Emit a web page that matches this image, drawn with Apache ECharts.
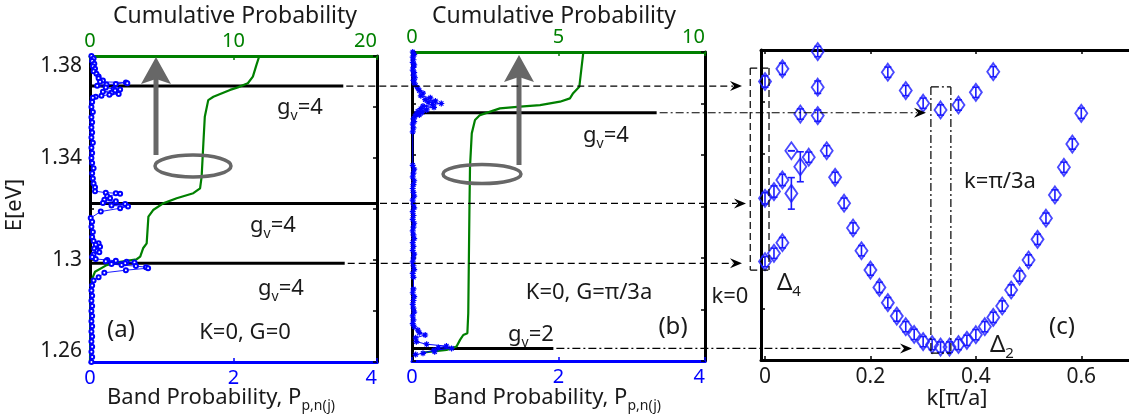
<!DOCTYPE html>
<html>
<head>
<meta charset="utf-8">
<script src="https://cdn.jsdelivr.net/npm/echarts@6/dist/echarts.min.js"></script>
<style>
html,body{margin:0;padding:0;background:#fff;}
#chart{width:1129px;height:420px;}
</style>
</head>
<body>
<div id="chart"></div>
<script>
// ---------------- data ----------------
// energy axis ticks shared by all three panels
const energyTicks  = [1.26, 1.28, 1.30, 1.32, 1.34, 1.36, 1.38];
const energyLabels = [1.26, 1.3, 1.34, 1.38];
const kTicks = [0, 0.2, 0.4, 0.6];

// (a) K=0, G=0 : band probability P vs energy
const bandA_E = [1.3800,1.3790,1.3780,1.3770,1.3760,1.3750,1.3740,1.3730,1.3720,
  1.3713,1.3704,1.3699,1.3696,1.3693,1.3690,1.3688,1.3683,1.3676,1.3671,1.3669,1.3665,1.3660,1.3656,1.3651,1.3648,1.3644,1.3640,1.3636,
  1.3620,1.3600,1.3580,1.3560,1.3540,1.3520,1.3500,1.3480,1.3460,1.3440,1.3420,1.3400,1.3380,1.3360,1.3340,1.3320,1.3300,1.3285,
  1.3270,1.3264,1.3262,1.3260,1.3250,1.3242,1.3236,1.3230,1.3224,1.3220,1.3214,1.3210,1.3203,1.3190,1.3165,
  1.3150,1.3130,1.3110,1.3090,1.3075,1.3066,1.3060,1.3052,1.3045,1.3036,1.3030,1.3022,1.3012,
  1.3004,1.3000,1.2997,1.2995,1.2993,1.2990,1.2987,1.2984,1.2980,1.2976,1.2972,1.2968,1.2960,1.2950,1.2932,1.2920,
  1.2900,1.2880,1.2860,1.2840,1.2820,1.2800,1.2780,1.2760,1.2740,1.2720,1.2700,1.2680,1.2660,1.2640,1.2620,1.2600];
const bandA_P = [0.02,0.05,0.03,0.06,0.04,0.07,0.05,0.09,0.12,
  0.12,0.18,0.14,0.50,0.52,0.36,0.23,0.10,0.22,0.33,0.42,0.35,0.18,0.30,0.40,0.27,0.16,0.08,0.04,
  0.03,0.02,0.04,0.02,0.03,0.02,0.03,0.02,0.04,0.02,0.03,0.02,0.03,0.05,0.03,0.04,0.05,0.07,
  0.07,0.22,0.36,0.42,0.24,0.28,0.20,0.36,0.18,0.49,0.30,0.53,0.42,0.15,0.01,
  0.03,0.02,0.04,0.03,0.05,0.12,0.08,0.14,0.06,0.10,0.13,0.05,0.03,
  0.08,0.24,0.36,0.22,0.51,0.62,0.49,0.30,0.44,0.64,0.78,0.81,0.50,0.20,0.12,0.05,
  0.03,0.02,0.03,0.02,0.03,0.02,0.03,0.02,0.03,0.02,0.03,0.02,0.03,0.02,0.03,0.02];

// (a) cumulative probability vs energy
const cumA_E = [1.3800,1.3765,1.3719,1.3693,1.3677,1.3667,1.3640,1.3627,1.3562,1.3458,1.3327,1.3281,1.3262,1.3242,1.3222,1.3196,1.3170,1.3065,1.3046,1.3013,1.3003,1.2993,1.2980,1.2954,1.2922,1.2843,1.2600];
const cumA_C = [11.8,11.6,11.35,11.0,10.3,9.76,8.6,8.24,8.0,7.9,7.78,7.67,7.2,6.04,5.1,4.4,4.07,3.95,3.7,3.5,3.25,2.1,1.16,0.35,0.12,0.05,0.0];

// (a) degenerate levels (energy, extent of the marker line in P units, degeneracy)
const levelA_E   = [1.3682, 1.3222, 1.2987];
const levelA_end = [3.53, 4.0, 3.55];
const levelA_deg = [4, 4, 4];

// (b) K=0, G=pi/3a : band probability P vs energy
const bandB_E = [1.3800,1.3790,1.3780,1.3770,1.3760,1.3750,1.3740,1.3730,1.3720,1.3710,1.3700,1.3690,1.3680,1.3670,
  1.3660,1.3650,1.3640,1.3630,1.3622,1.3615,1.3610,1.3605,1.3600,1.3596,1.3590,1.3585,1.3580,1.3575,1.3570,1.3565,1.3560,1.3555,1.3550,
  1.3540,1.3530,1.3520,1.3505,1.3490,
  1.3360,1.3345,1.3330,1.3315,1.3300,1.3285,1.3270,1.3255,1.3240,1.3225,1.3210,1.3195,1.3180,1.3165,1.3150,1.3135,1.3120,1.3105,1.3090,1.3075,1.3060,1.3045,1.3030,1.3015,1.3000,1.2985,1.2970,1.2955,1.2940,1.2925,
  1.2880,1.2865,1.2850,1.2835,1.2820,1.2805,1.2790,1.2775,1.2760,1.2745,
  1.2733,1.2720,1.2710,1.2701,1.2690,1.2675,1.2665,1.2658,1.2652,1.2649,1.2642,1.2636,1.2630,1.2625];
const bandB_P = [0.01,0.03,0.01,0.02,0.01,0.03,0.02,0.01,0.03,0.02,0.04,0.02,0.03,0.05,
  0.08,0.10,0.15,0.12,0.25,0.18,0.32,0.22,0.40,0.28,0.15,0.30,0.12,0.20,0.08,0.14,0.06,0.10,0.04,
  0.02,0.03,0.01,0.02,0.01,
  0.01,0.03,0.02,0.01,0.03,0.02,0.01,0.02,0.03,0.01,0.02,0.03,0.01,0.02,0.01,0.03,0.02,0.01,0.02,0.03,0.01,0.02,0.01,0.03,0.02,0.01,0.02,0.03,0.01,0.02,
  0.02,0.01,0.03,0.02,0.01,0.02,0.03,0.01,0.02,0.01,
  0.03,0.08,0.10,0.18,0.05,0.06,0.20,0.47,0.36,0.54,0.30,0.31,0.15,0.05];

// (b) cumulative probability vs energy
const cumB_E = [1.3801,1.3743,1.3665,1.3640,1.3620,1.3607,1.3594,1.3588,1.3581,1.3555,1.3536,1.3484,1.3355,1.3186,1.2785,1.2708,1.2701,1.2682,1.2656,1.2643,1.2632];
const cumB_C = [5.85,5.79,5.71,5.5,5.39,5.05,4.37,3.69,3.0,2.32,2.15,2.04,1.98,1.96,1.92,1.89,1.75,1.64,1.52,1.18,0.33];

// (b) degenerate levels
const levelB_E   = [1.3564, 1.2649];
const levelB_end = [3.34, 1.93];
const levelB_deg = [4, 2];

// (c) band structure E(k), k in units of pi/a, with error bars
const bandC_k = [0, 0, 0, 0.017, 0.017, 0.033, 0.033, 0.033, 0.05, 0.05, 0.067, 0.067, 0.083, 0.1, 0.1, 0.1,
  0.117, 0.133, 0.15, 0.167, 0.183, 0.2, 0.217, 0.233, 0.25, 0.267, 0.283, 0.3, 0.317, 0.333, 0.35, 0.367, 0.383, 0.4,
  0.417, 0.433, 0.45, 0.467, 0.483, 0.5, 0.517, 0.533, 0.55, 0.567, 0.583, 0.6,
  0.233, 0.267, 0.3, 0.333, 0.367, 0.4, 0.433];
const bandC_E = [1.3678, 1.3226, 1.2981, 1.3252, 1.3013, 1.3727, 1.3297, 1.3054, 1.3410, 1.3245, 1.3552, 1.3348, 1.3385, 1.3794, 1.3656, 1.3546,
  1.3410, 1.3307, 1.3207, 1.3111, 1.3023, 1.2948, 1.2881, 1.2822, 1.2770, 1.2729, 1.2699, 1.2671, 1.2660, 1.2650, 1.2650, 1.2660, 1.2676, 1.2698,
  1.2729, 1.2765, 1.2809, 1.2871, 1.2925, 1.2987, 1.3067, 1.3149, 1.3239, 1.3346, 1.3436, 1.3555,
  1.3714, 1.3643, 1.3594, 1.3568, 1.3587, 1.3636, 1.3716];
const bandC_err = [0.0022, 0.0022, 0.0020, 0.0022, 0.0020, 0.0022, 0.0022, 0.0020, 0.0000, 0.0061, 0.0020, 0.0058, 0.0020, 0.0020, 0.0024, 0.0022,
  0.0020, 0.0020, 0.0020, 0.0020, 0.0020, 0.0020, 0.0020, 0.0020, 0.0020, 0.0020, 0.0020, 0.0020, 0.0020, 0.0020, 0.0020, 0.0020, 0.0020, 0.0020,
  0.0020, 0.0020, 0.0020, 0.0020, 0.0020, 0.0020, 0.0020, 0.0020, 0.0020, 0.0020, 0.0020, 0.0020,
  0.0020, 0.0020, 0.0020, 0.0020, 0.0020, 0.0020, 0.0020];

// ---------------- styling ----------------
const FONT_NAME = "'Noto Sans', 'DejaVu Sans', sans-serif";
const BLUE = '#0000ff';
const GREEN = '#008000';
const INK = '#1a1a1a';
const GREY = '#676767';

const zip = (xs, ys) => xs.map((x, i) => [x, ys[i]]);
const fmtE = v => String(+(+v).toFixed(2));

function energyAxis(gridIndex, position, withLabels) {
  return {
    type: 'value', gridIndex, position, min: 1.26, max: 1.38,
    splitLine: { show: false },
    axisLine: { show: true, onZero: false, lineStyle: { color: '#000', width: 3 } },
    axisTick: { show: true, inside: true, length: 4, customValues: energyTicks, lineStyle: { color: '#000', width: 1.5 } },
    axisLabel: withLabels ? {
      show: true, customValues: energyLabels, formatter: fmtE, color: INK, fontSize: 21, fontFamily: FONT_NAME, margin: 8,
      verticalAlignMaxLabel: 'top', verticalAlignMinLabel: 'bottom'
    } : { show: false }
  };
}

function probAxis(gridIndex, position, max, interval, color) {
  return {
    type: 'value', gridIndex, position, min: 0, max, interval,
    splitLine: { show: false },
    axisLine: { show: true, onZero: false, lineStyle: { color, width: 3 } },
    axisTick: { show: true, inside: true, length: 4, lineStyle: { color, width: 1.5 } },
    axisLabel: { show: true, color, fontSize: 20, fontFamily: FONT_NAME, margin: position === 'top' ? 5 : 6, alignMaxLabel: 'right' }
  };
}

function kAxis(position, withLabels) {
  return {
    type: 'value', gridIndex: 2, position, min: -0.0076, max: 0.7,
    splitLine: { show: false },
    axisLine: { show: true, onZero: false, lineStyle: { color: '#000', width: 3 } },
    axisTick: { show: true, inside: true, length: 4, customValues: kTicks, lineStyle: { color: '#000', width: 1.5 } },
    axisLabel: withLabels ? { show: true, customValues: kTicks, color: INK, fontSize: 21, fontFamily: FONT_NAME, margin: 7 } : { show: false }
  };
}

function levelSeries(xi, yi, E, ends) {
  return {
    type: 'custom', xAxisIndex: xi, yAxisIndex: yi, z: 1, clip: false,
    data: E.map((e, i) => [ends[i], e]),
    renderItem: (params, api) => {
      const a = api.coord([0, api.value(1)]);
      const b = api.coord([api.value(0), api.value(1)]);
      return { type: 'line', shape: { x1: a[0], y1: a[1], x2: b[0], y2: b[1] }, style: { stroke: '#000', lineWidth: 3 } };
    }
  };
}

const chart = echarts.init(document.getElementById('chart'), null, { renderer: 'canvas' });

chart.setOption({
  animation: false,
  backgroundColor: '#ffffff',
  grid: [
    { left: 90,  top: 56, width: 287, height: 306, outerBoundsMode: 'none' },
    { left: 412, top: 52, width: 293, height: 309, outerBoundsMode: 'none' },
    { left: 761, top: 50, width: 373, height: 310, outerBoundsMode: 'none' }
  ],
  xAxis: [
    probAxis(0, 'bottom', 4, 2, BLUE),
    probAxis(0, 'top', 20, 10, GREEN),
    probAxis(1, 'bottom', 4, 2, BLUE),
    probAxis(1, 'top', 10, 5, GREEN),
    kAxis('bottom', true),
    kAxis('top', false)
  ],
  yAxis: [
    energyAxis(0, 'left', true),
    energyAxis(0, 'right', false),
    energyAxis(1, 'left', false),
    energyAxis(1, 'right', false),
    energyAxis(2, 'left', false)
  ],
  series: [
    // panel (a)
    levelSeries(0, 0, levelA_E, levelA_end),
    {
      type: 'line', xAxisIndex: 1, yAxisIndex: 0, z: 3, showSymbol: false,
      data: zip(cumA_C, cumA_E), lineStyle: { color: GREEN, width: 2.2 }
    },
    {
      type: 'line', xAxisIndex: 0, yAxisIndex: 0, z: 4,
      symbol: 'emptyCircle', symbolSize: 4,
      data: zip(bandA_P, bandA_E),
      lineStyle: { color: BLUE, width: 0.9 },
      itemStyle: { color: BLUE, borderColor: BLUE, borderWidth: 0.9 }
    },
    // panel (b)
    levelSeries(2, 2, levelB_E, levelB_end),
    {
      type: 'line', xAxisIndex: 3, yAxisIndex: 2, z: 3, showSymbol: false,
      data: zip(cumB_C, cumB_E), lineStyle: { color: GREEN, width: 2.2 }
    },
    {
      type: 'line', xAxisIndex: 2, yAxisIndex: 2, z: 4,
      symbol: 'path://M5,0L5,10M0,5L10,5M1.5,1.5L8.5,8.5M1.5,8.5L8.5,1.5', symbolSize: 6,
      data: zip(bandB_P, bandB_E),
      lineStyle: { color: BLUE, width: 1 },
      itemStyle: { color: BLUE, borderColor: BLUE, borderWidth: 1.2 }
    },
    // panel (c): error bars then diamonds
    {
      type: 'custom', xAxisIndex: 4, yAxisIndex: 4, z: 3,
      data: bandC_k.map((k, i) => [k, bandC_E[i], bandC_err[i]]),
      renderItem: (params, api) => {
        const k = api.value(0), e = api.value(1), err = api.value(2);
        const top = api.coord([k, e + err]);
        const bot = api.coord([k, e - err]);
        const st = { stroke: '#1a1aff', lineWidth: 1.6 };
        return {
          type: 'group', children: [
            { type: 'line', shape: { x1: top[0], y1: top[1], x2: bot[0], y2: bot[1] }, style: st },
            { type: 'line', shape: { x1: top[0] - 3.5, y1: top[1], x2: top[0] + 3.5, y2: top[1] }, style: st },
            { type: 'line', shape: { x1: bot[0] - 3.5, y1: bot[1], x2: bot[0] + 3.5, y2: bot[1] }, style: st }
          ]
        };
      }
    },
    {
      type: 'scatter', xAxisIndex: 4, yAxisIndex: 4, z: 4,
      symbol: 'diamond', symbolSize: [12, 17],
      data: zip(bandC_k, bandC_E),
      itemStyle: { color: 'rgba(255,255,255,0)', borderColor: '#1a1aff', borderWidth: 1.9 }
    }
  ]
});

// ---------------- annotations ----------------
const toPx = (xi, yi, x, y) => chart.convertToPixel({ xAxisIndex: xi, yAxisIndex: yi }, [x, y]);
const DASH = [7, 4];
const DASHDOT = [8, 3, 2, 3];

const measureCtx = document.createElement('canvas').getContext('2d');
function textWidth(text, size) {
  measureCtx.font = size + 'px ' + FONT_NAME;
  return measureCtx.measureText(text).width;
}

function seg(x1, y1, x2, y2, dash, color, w) {
  return { type: 'line', silent: true, z: 50, shape: { x1, y1, x2, y2 }, style: { stroke: color || '#000', lineWidth: w || 1.2, lineDash: dash || null } };
}
function headRight(tipX, y) {
  return { type: 'polygon', silent: true, z: 51, shape: { points: [[tipX, y], [tipX - 12, y - 5], [tipX - 8, y], [tipX - 12, y + 5]] }, style: { fill: '#000' } };
}
function textEl(x, y, text, size, align, extra) {
  return Object.assign({
    type: 'text', silent: true, z: 60, x, y,
    style: { text, fill: INK, fontSize: size, fontFamily: FONT_NAME, align: align || 'center', verticalAlign: 'middle' }
  }, extra || {});
}
// main text + lowered subscript + optional trailing text, left edge at x, main centre at y
function subText(x, y, main, sub, tail, size) {
  const subSize = Math.round(size * 0.64);
  const w1 = textWidth(main, size);
  const w2 = textWidth(sub, subSize);
  const out = [
    textEl(x, y, main, size, 'left'),
    textEl(x + w1, y + size * 0.36, sub, subSize, 'left')
  ];
  if (tail) out.push(textEl(x + w1 + w2, y, tail, size, 'left'));
  return out;
}
function greyArrow(x, yBottom, yTip) {
  return [
    { type: 'rect', silent: true, z: 40, shape: { x: x - 2.5, y: yTip + 20, width: 5, height: yBottom - yTip - 20 }, style: { fill: GREY } },
    { type: 'polygon', silent: true, z: 40, shape: { points: [[x, yTip], [x + 15, yTip + 27], [x, yTip + 22], [x - 15, yTip + 27]] }, style: { fill: GREY } }
  ];
}
function ring(cx, cy, rx, ry) {
  return { type: 'ellipse', silent: true, z: 40, shape: { cx, cy, rx, ry }, style: { fill: null, stroke: GREY, lineWidth: 3.5 } };
}

const g = [];

// connectors from the (a) levels to the k=0 box
const tipsA = [742, 746, 742];
levelA_E.forEach((e, i) => {
  const p = toPx(0, 0, levelA_end[i], e);
  g.push(seg(p[0] + 3, p[1], tipsA[i] - 9, p[1], DASH));
  g.push(headRight(tipsA[i], p[1]));
});
// connectors from the (b) levels to the k=pi/3a box
const tipsB = [926, 912];
levelB_E.forEach((e, i) => {
  const p = toPx(2, 2, levelB_end[i], e);
  g.push(seg(p[0] + 3, p[1], tipsB[i] - 9, p[1], DASHDOT));
  g.push(headRight(tipsB[i], p[1]));
});

// dashed box around the k=0 states
{
  const a = toPx(4, 4, -0.028, 1.373), b = toPx(4, 4, 0.0076, 1.2948);
  g.push(seg(a[0], a[1], b[0], a[1], DASH), seg(a[0], b[1], b[0], b[1], DASH),
         seg(a[0], a[1], a[0], b[1], DASH), seg(b[0], a[1], b[0], b[1], DASH));
}
// dash-dot box around k = pi/3a
{
  const a = toPx(4, 4, 0.3147, 1.3657), b = toPx(4, 4, 0.3526, 1.2627);
  g.push(seg(a[0], a[1], b[0], a[1], DASHDOT), seg(a[0], b[1], b[0], b[1], DASHDOT),
         seg(a[0], a[1], a[0], b[1], DASHDOT), seg(b[0], a[1], b[0], b[1], DASHDOT));
}

// grey arrows and rings
g.push(...greyArrow(156, 155, 57), ring(193, 166, 38, 11));
g.push(...greyArrow(519, 165, 55), ring(482, 174, 39, 9.5));

// axis titles
g.push(textEl(235, 16, 'Cumulative Probability', 23));
g.push(textEl(554, 16, 'Cumulative Probability', 23));
g.push(...subText(107, 398, 'Band Probability, P', 'p,n(j)', '', 22));
g.push(...subText(433, 398, 'Band Probability, P', 'p,n(j)', '', 22));
g.push(textEl(957, 399, 'k[π/a]', 22));
g.push(textEl(15, 205, 'E[eV]', 22, 'center', { rotation: Math.PI / 2 }));

// level degeneracy labels
const degPosA = [[277, 108], [250, 226], [258, 289]];
levelA_deg.forEach((d, i) => g.push(...subText(degPosA[i][0], degPosA[i][1], 'g', 'v', '=' + d, 22)));
const degPosB = [[583, 136], [508, 335]];
levelB_deg.forEach((d, i) => g.push(...subText(degPosB[i][0], degPosB[i][1], 'g', 'v', '=' + d, 22)));

// panel captions
g.push(textEl(121, 330, '(a)', 24));
g.push(textEl(245, 333, 'K=0, G=0', 22));
g.push(textEl(673, 327, '(b)', 24));
g.push(textEl(589, 293, 'K=0, G=π/3a', 22));
g.push(textEl(1062, 327, '(c)', 24));
g.push(textEl(1000, 182, 'k=π/3a', 22));
g.push(textEl(730, 297, 'k=0', 22));
g.push(...subText(777, 283, 'Δ', '4', '', 24));
g.push(...subText(990, 345, 'Δ', '2', '', 24));

chart.setOption({ graphic: g });
</script>
</body>
</html>
